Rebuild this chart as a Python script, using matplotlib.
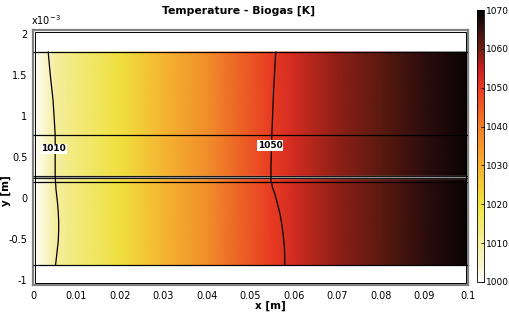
import numpy as np
import matplotlib
matplotlib.use('Agg')
from matplotlib import pyplot as plt
from matplotlib.colors import LinearSegmentedColormap
from matplotlib.patches import Rectangle
from matplotlib.ticker import FuncFormatter

# temperature read along the channel (K), x in m
x_prof = [0, 0.005, 0.01, 0.02, 0.03, 0.04, 0.05, 0.055, 0.06, 0.07, 0.08, 0.09, 0.1]
T_prof = [1000, 1010, 1014, 1021, 1029, 1037, 1046, 1050, 1053, 1058, 1062, 1066, 1069]

# layer boundaries of the domain (m)
y_bounds = [-0.81e-3, 0.195e-3, 0.26e-3, 0.77e-3, 1.78e-3]

# contour lines
c1010_y = [1.78e-3, 1.6e-3, 1.44e-3, 1.2e-3, 0.95e-3, 0.77e-3, 0.26e-3, 0.1e-3,
           -0.04e-3, -0.16e-3, -0.28e-3, -0.4e-3, -0.53e-3, -0.67e-3, -0.81e-3]
c1010_x = [0.0035, 0.0038, 0.0041, 0.0046, 0.0049, 0.0051, 0.0051, 0.0053,
           0.0056, 0.0058, 0.0059, 0.0059, 0.0058, 0.0055, 0.0052]
c1050_y = [1.78e-3, 1.3e-3, 0.77e-3, 0.4e-3, 0.22e-3, 0.12e-3, 0.05e-3, -0.07e-3,
           -0.196e-3, -0.32e-3, -0.44e-3, -0.6e-3, -0.81e-3]
c1050_x = [0.0558, 0.0553, 0.0549, 0.0547, 0.0547, 0.0551, 0.0556, 0.0562,
           0.0568, 0.0572, 0.0575, 0.0578, 0.0579]

x_ticks = [0, 0.01, 0.02, 0.03, 0.04, 0.05, 0.06, 0.07, 0.08, 0.09, 0.1]
y_ticks = [-1e-3, -0.5e-3, 0, 0.5e-3, 1e-3, 1.5e-3, 2e-3]
cb_ticks = [1000, 1010, 1020, 1030, 1040, 1050, 1060, 1070]


def main():
    cmap = LinearSegmentedColormap.from_list('thermal', [
        (0.0, '#ffffff'), (0.07, '#f9f3c8'), (0.143, '#f5eea0'),
        (0.286, '#f0e440'), (0.429, '#f5b030'), (0.571, '#f08028'),
        (0.714, '#e83a22'), (0.79, '#c02020'), (0.857, '#702010'),
        (0.93, '#3a1010'), (1.0, '#000000')])

    fig = plt.figure(figsize=(5.1, 3.13), dpi=100)
    ax = fig.add_axes([33 / 510, 28 / 313, 435 / 510, 255 / 313])
    cax = fig.add_axes([477 / 510, 31 / 313, 7 / 510, 272 / 313])

    X = np.array(x_prof)
    Y = np.array([y_bounds[0], y_bounds[-1]])
    T = np.vstack([T_prof, T_prof])
    mesh = ax.pcolormesh(X, Y, T, shading='gouraud', cmap=cmap, vmin=1000, vmax=1070)

    # domain edges
    for i, yb in enumerate(y_bounds):
        if i == 2:
            ax.hlines(yb, 0, 0.1, color='#909090', lw=2.4, zorder=3)
            ax.hlines([yb - 0.012e-3, yb + 0.012e-3], 0, 0.1, color='black', lw=0.6, zorder=3)
        else:
            ax.hlines(yb, 0, 0.1, color='black', lw=0.9, zorder=3)

    ax.plot(c1010_x, c1010_y, color='black', lw=0.9, zorder=3)
    ax.plot(c1050_x, c1050_y, color='black', lw=0.9, zorder=3)
    box = dict(facecolor='white', edgecolor='none', pad=0.5)
    ax.text(0.0048, 0.60e-3, '1010', fontsize=6.5, fontweight='bold', ha='center', va='center', bbox=box, zorder=4)
    ax.text(0.0545, 0.64e-3, '1050', fontsize=6.5, fontweight='bold', ha='center', va='center', bbox=box, zorder=4)

    ax.set_xlim(0, 0.1)
    ax.set_ylim(-1.06e-3, 2.05e-3)
    ax.set_xticks(x_ticks)
    ax.set_yticks(y_ticks)
    ax.xaxis.set_major_formatter(FuncFormatter(lambda v, p: '%g' % round(v, 6)))
    ax.yaxis.set_major_formatter(FuncFormatter(lambda v, p: '%g' % round(v * 1e3, 6)))
    ax.tick_params(length=0, labelsize=7, pad=4)
    ax.tick_params(axis='x', pad=4.5)
    for s in ax.spines.values():
        s.set_color('#808080')
        s.set_linewidth(1.6)
    ax.add_patch(Rectangle((0.004, 0.006), 0.992, 0.988, transform=ax.transAxes,
                           fill=False, edgecolor='black', lw=0.7, zorder=5))

    ax.text(-0.004, 1.012, 'x10$^{-3}$', transform=ax.transAxes, fontsize=7, ha='left', va='bottom')
    ax.set_title('Temperature - Biogas [K]', fontsize=7.8, fontweight='bold', pad=12, x=0.473)
    ax.set_xlabel('x [m]', fontsize=7.5, fontweight='bold')
    ax.set_ylabel('y [m]', fontsize=7.5, fontweight='bold')
    ax.xaxis.set_label_coords(0.545, -0.062)
    ax.yaxis.set_label_coords(-0.05, 0.37)

    cb = fig.colorbar(mesh, cax=cax, ticks=cb_ticks)
    cb.ax.tick_params(direction='in', length=2, width=0.6, labelsize=6.5, pad=1.5)
    cb.outline.set_linewidth(0.6)

    plt.savefig('out.png', dpi=100)


if __name__ == '__main__':
    main()
